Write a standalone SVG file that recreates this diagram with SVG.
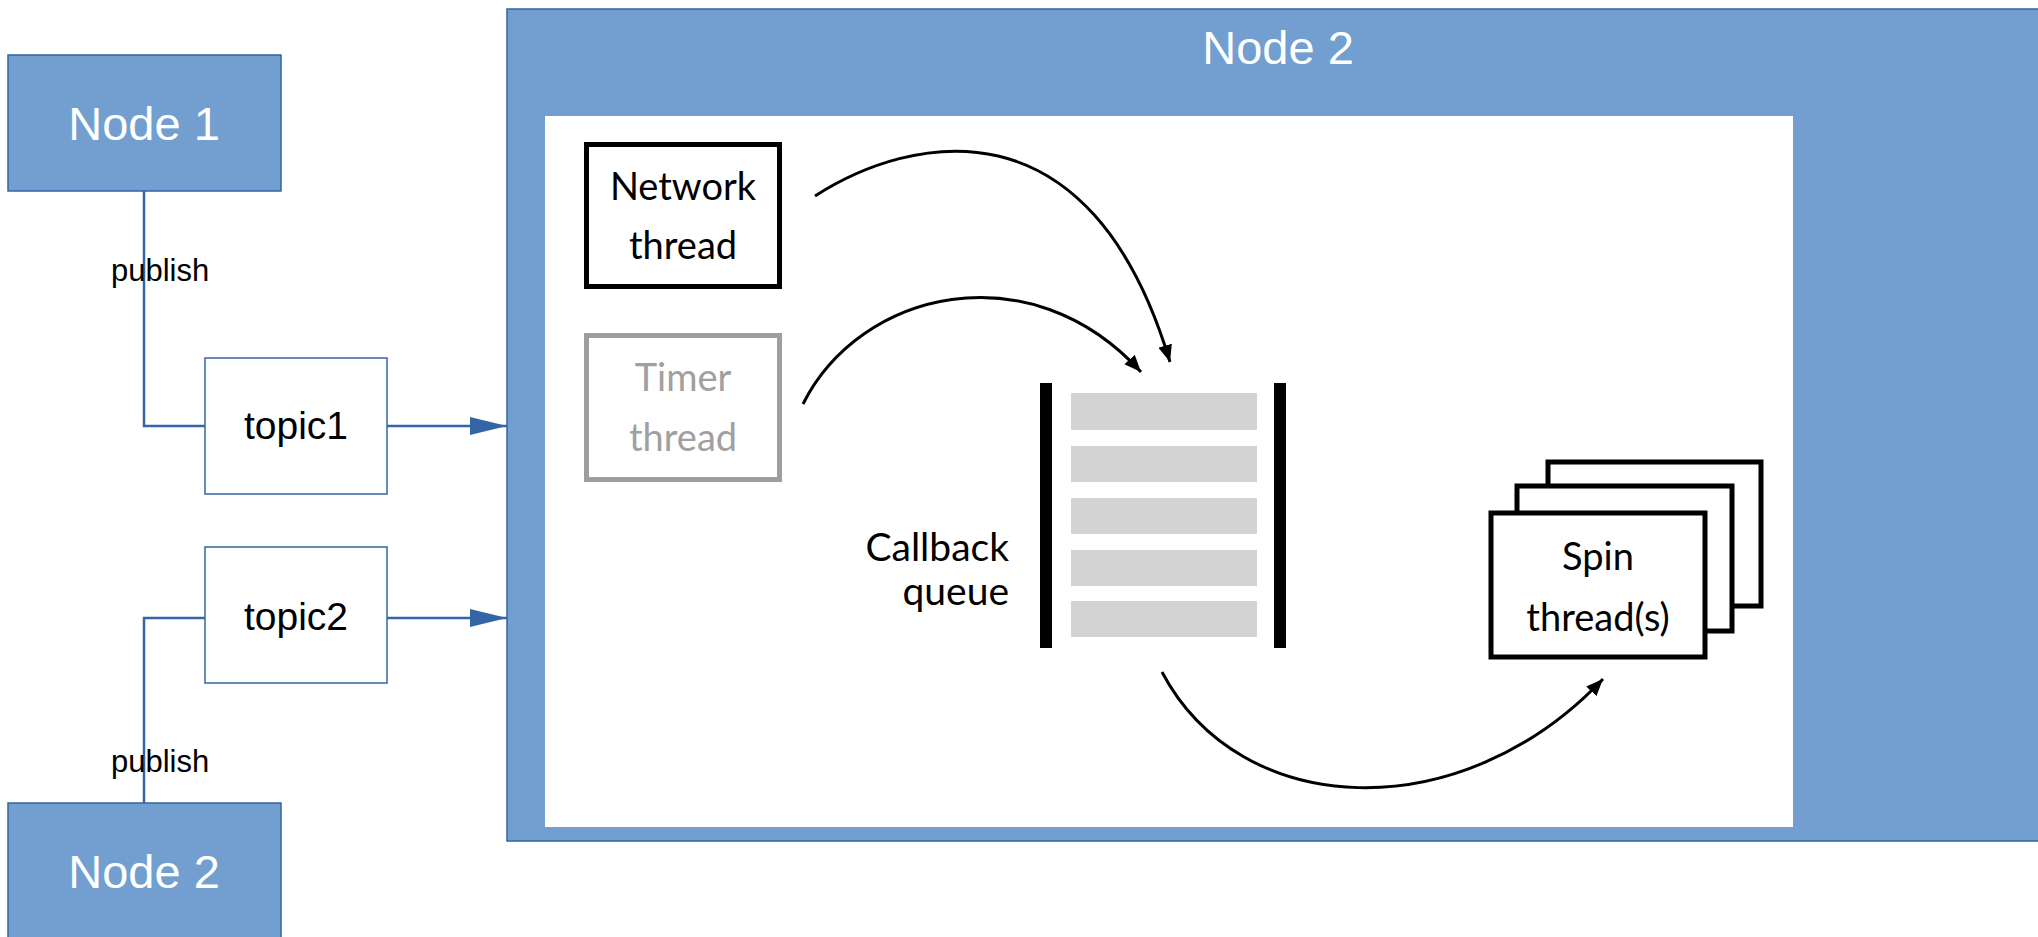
<svg xmlns="http://www.w3.org/2000/svg" width="2038" height="937" viewBox="0 0 2038 937">
<style>
.node{fill:#729fcf;stroke:#3465a4;stroke-width:1.5}
.ntext{font-family:"Liberation Sans",Arial,sans-serif;font-size:47px;fill:#ffffff;text-anchor:middle}
.topic{fill:#ffffff;stroke:#3465a4;stroke-width:1.5}
.ttext{font-family:"Liberation Sans",Arial,sans-serif;font-size:39px;fill:#000;text-anchor:middle}
.ltext{font-family:"Liberation Sans",Arial,sans-serif;font-size:31px;fill:#000}
.conn{fill:none;stroke:#3465a4;stroke-width:2.5}
.lbl{font-family:Lato,"Open Sans",sans-serif;font-size:38px;fill:#000;text-anchor:middle}
.curve{fill:none;stroke:#000;stroke-width:3}
.cell{fill:#d3d3d3}
.thr{fill:#fff;stroke:#000;stroke-width:5}
</style>
<defs>
<marker id="blueArrow" markerUnits="userSpaceOnUse" markerWidth="40" markerHeight="22" refX="37" refY="9" orient="auto">
<path d="M0,0 L37,9 L0,18 Z" fill="#3465a4"/>
</marker>
<marker id="blackArrow" markerUnits="userSpaceOnUse" markerWidth="20" markerHeight="16" refX="17" refY="7" orient="auto">
<path d="M0,0 L17,7 L0,14 Z" fill="#000"/>
</marker>
</defs>

<g id="node2-container">
<rect x="507" y="9" width="1540" height="832" class="node"/>
<text x="1278" y="64" class="ntext">Node 2</text>
<rect x="545" y="116" width="1248" height="711" fill="#ffffff"/>
</g>

<g id="node1">
<rect x="8" y="55" width="273" height="136" class="node"/>
<text x="144" y="140" class="ntext">Node 1</text>
</g>

<g id="node2">
<rect x="8" y="803" width="273" height="140" class="node"/>
<text x="144" y="888" class="ntext">Node 2</text>
</g>

<g id="topic1">
<rect x="205" y="358" width="182" height="136" class="topic"/>
<text x="296" y="439" class="ttext">topic1</text>
</g>

<g id="topic2">
<rect x="205" y="547" width="182" height="136" class="topic"/>
<text x="296" y="630" class="ttext">topic2</text>
</g>

<g id="network-thread">
<rect x="586.5" y="144.5" width="193" height="142" fill="#fff" stroke="#000" stroke-width="5"/>
<text x="683" y="200" class="lbl">Network</text>
<text x="683" y="259" class="lbl">thread</text>
</g>

<g id="timer-thread">
<rect x="586.5" y="335.5" width="193" height="144" fill="#fff" stroke="#9e9e9e" stroke-width="5"/>
<text x="683" y="391" class="lbl" style="fill:#a0a0a0">Timer</text>
<text x="683" y="451" class="lbl" style="fill:#a0a0a0">thread</text>
</g>

<g id="callback-queue">
<rect x="1040" y="383" width="12" height="265" fill="#000"/>
<rect x="1274" y="383" width="12" height="265" fill="#000"/>
<rect x="1071" y="393" width="186" height="37" class="cell"/>
<rect x="1071" y="446" width="186" height="36" class="cell"/>
<rect x="1071" y="498" width="186" height="36" class="cell"/>
<rect x="1071" y="550" width="186" height="36" class="cell"/>
<rect x="1071" y="601" width="186" height="36" class="cell"/>
<text x="1009" y="561" class="lbl" style="text-anchor:end;font-size:39px">Callback</text>
<text x="1009" y="605" class="lbl" style="text-anchor:end;font-size:39px">queue</text>
</g>

<g id="spin-threads">
<rect x="1548" y="462" width="213" height="144" class="thr"/>
<rect x="1517" y="486" width="215" height="145" class="thr"/>
<rect x="1491" y="513" width="214" height="144" class="thr"/>
<text x="1598" y="570" class="lbl">Spin</text>
<text x="1598" y="631" class="lbl">thread(s)</text>
</g>

<g id="connectors">
<polyline points="144,191 144,426 205,426" class="conn"/>
<polyline points="144,803 144,618 205,618" class="conn"/>
<line x1="387" y1="426" x2="507" y2="426" class="conn" marker-end="url(#blueArrow)"/>
<line x1="387" y1="618" x2="507" y2="618" class="conn" marker-end="url(#blueArrow)"/>
<text x="111" y="281" class="ltext">publish</text>
<text x="111" y="772" class="ltext">publish</text>
<path d="M815,196 C910,135 1090,95 1170,362" class="curve" marker-end="url(#blackArrow)"/>
<path d="M803,404 C860,290 1030,250 1141,372" class="curve" marker-end="url(#blackArrow)"/>
<path d="M1162,672 C1240,820 1460,830 1603,679" class="curve" marker-end="url(#blackArrow)"/>
</g>
</svg>
